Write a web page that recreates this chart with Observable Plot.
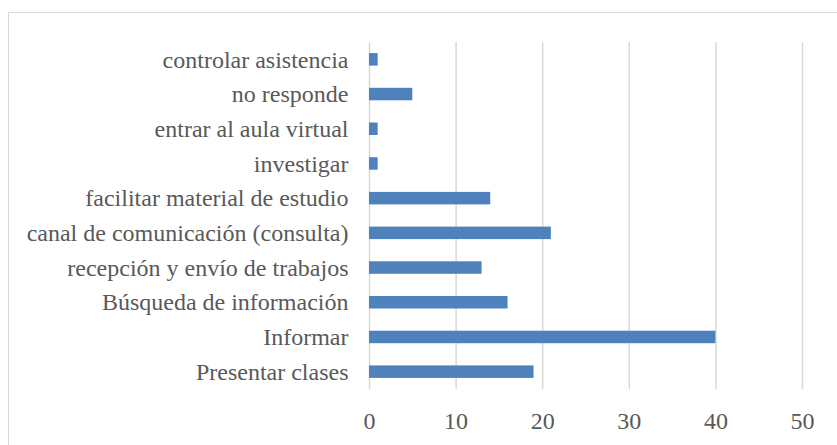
<!DOCTYPE html>
<html>
<head>
<meta charset="utf-8">
<script src="https://cdn.jsdelivr.net/npm/d3@7"></script>
<script src="https://cdn.jsdelivr.net/npm/@observablehq/plot@0.6"></script>
<style>
  html, body { margin: 0; padding: 0; background: #fff; overflow: hidden; width: 837px; height: 445px; }
  #wrap { position: relative; width: 837px; height: 445px; }
  #frame { position: absolute; left: 8px; top: 12px; width: 900px; height: 500px; border: 1.5px solid #d9d9d9; box-sizing: border-box; }
  #chart { position: absolute; left: 0; top: 0; }
  #chart svg text { font-family: "Liberation Serif", serif; }
</style>
</head>
<body>
<div id="wrap"><div id="frame"></div><div id="chart"></div></div>
<script>
const categories = [
  "controlar asistencia",
  "no responde",
  "entrar al aula virtual",
  "investigar",
  "facilitar material de estudio",
  "canal de comunicación (consulta)",
  "recepción y envío de trabajos",
  "Búsqueda de información",
  "Informar",
  "Presentar clases"
];
const values = [1, 5, 1, 1, 14, 21, 13, 16, 40, 19];
const xTicks = [0, 10, 20, 30, 40, 50];

const data = categories.map((c, i) => ({category: c, value: values[i]}));

const chart = Plot.plot({
  width: 837,
  height: 445,
  marginLeft: 369,
  marginRight: 35,
  marginTop: 42,
  marginBottom: 56,
  style: {background: "transparent", color: "#595959", fontFamily: "Liberation Serif, serif"},
  x: {domain: [0, 50]},
  y: {domain: categories, paddingInner: 0.64, paddingOuter: 0.32, round: false},
  marks: [
    Plot.gridX(xTicks, {stroke: "#d9d9d9", strokeOpacity: 1, strokeWidth: 1.5}),
    Plot.barX(data, {x: "value", y: "category", fill: "#4f81bd"}),
    Plot.axisY({tickSize: 0, tickPadding: 21, fontSize: 24, fill: "#595959", label: null}),
    Plot.axisX(xTicks, {tickSize: 0, tickPadding: 22, fontSize: 24, fill: "#595959", label: null})
  ]
});
document.getElementById("chart").appendChild(chart);
</script>
</body>
</html>
